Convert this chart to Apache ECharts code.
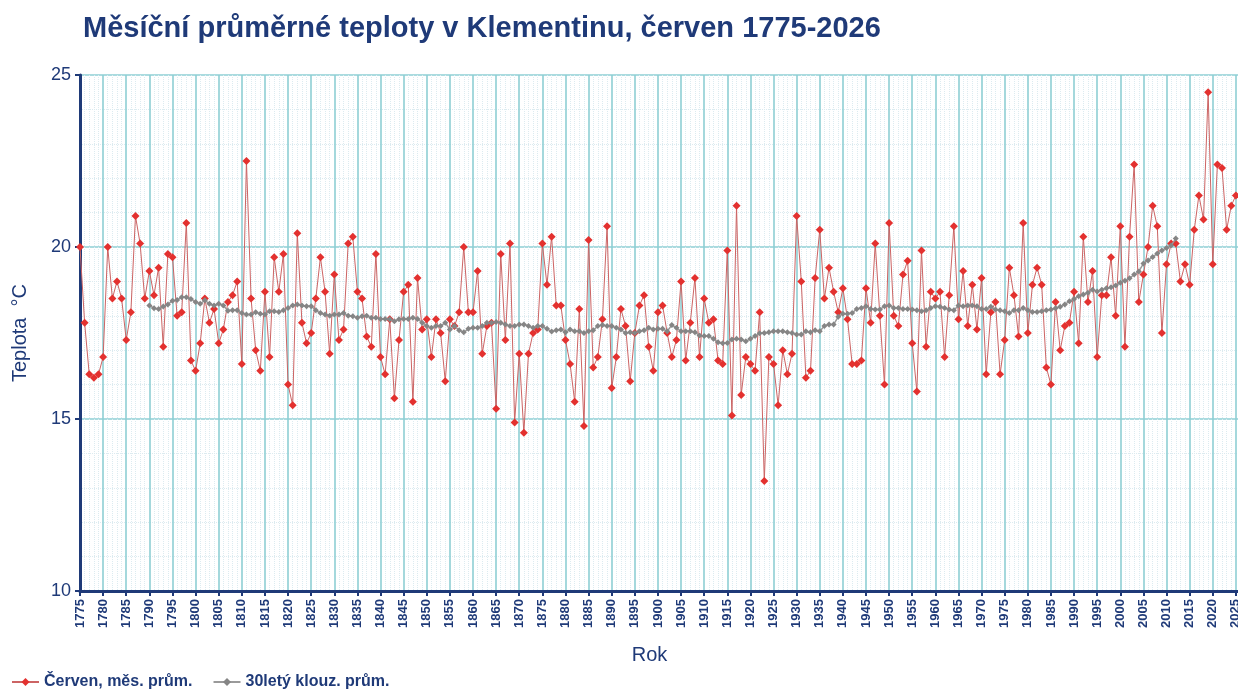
<!DOCTYPE html>
<html>
<head>
<meta charset="utf-8">
<title>Klementinum červen</title>
<script src="https://cdn.jsdelivr.net/npm/echarts@6/dist/echarts.min.js"></script>
<style>
  html, body { margin: 0; padding: 0; background: #fff; }
  #chart { width: 1238px; height: 691px; }
</style>
</head>
<body>
<div id="chart"></div>
<script>
// June mean temperature, Klementinum (°C), one value per year from firstYear
var firstYear = 1775;
var juneTemp = [
  20.0, 17.8, 16.3, 16.2, 16.3, 16.8, 20.0, 18.5, 19.0, 18.5,   // 1775-1784
  17.3, 18.1, 20.9, 20.1, 18.5, 19.3, 18.6, 19.4, 17.1, 19.8,   // 1785-1794
  19.7, 18.0, 18.1, 20.7, 16.7, 16.4, 17.2, 18.5, 17.8, 18.2,   // 1795-1804
  17.2, 17.6, 18.4, 18.6, 19.0, 16.6, 22.5, 18.5, 17.0, 16.4,   // 1805-1814
  18.7, 16.8, 19.7, 18.7, 19.8, 16.0, 15.4, 20.4, 17.8, 17.2,   // 1815-1824
  17.5, 18.5, 19.7, 18.7, 16.9, 19.2, 17.3, 17.6, 20.1, 20.3,   // 1825-1834
  18.7, 18.5, 17.4, 17.1, 19.8, 16.8, 16.3, 17.9, 15.6, 17.3,   // 1835-1844
  18.7, 18.9, 15.5, 19.1, 17.6, 17.9, 16.8, 17.9, 17.5, 16.1,   // 1845-1854
  17.9, 17.7, 18.1, 20.0, 18.1, 18.1, 19.3, 16.9, 17.7, 17.8,   // 1855-1864
  15.3, 19.8, 17.3, 20.1, 14.9, 16.9, 14.6, 16.9, 17.5, 17.6,   // 1865-1874
  20.1, 18.9, 20.3, 18.3, 18.3, 17.3, 16.6, 15.5, 18.2, 14.8,   // 1875-1884
  20.2, 16.5, 16.8, 17.9, 20.6, 15.9, 16.8, 18.2, 17.7, 16.1,   // 1885-1894
  17.5, 18.3, 18.6, 17.1, 16.4, 18.1, 18.3, 17.5, 16.8, 17.3,   // 1895-1904
  19.0, 16.7, 17.8, 19.1, 16.8, 18.5, 17.8, 17.9, 16.7, 16.6,   // 1905-1914
  19.9, 15.1, 21.2, 15.7, 16.8, 16.6, 16.4, 18.1, 13.2, 16.8,   // 1915-1924
  16.6, 15.4, 17.0, 16.3, 16.9, 20.9, 19.0, 16.2, 16.4, 19.1,   // 1925-1934
  20.5, 18.5, 19.4, 18.7, 18.1, 18.8, 17.9, 16.6, 16.6, 16.7,   // 1935-1944
  18.8, 17.8, 20.1, 18.0, 16.0, 20.7, 18.0, 17.7, 19.2, 19.6,   // 1945-1954
  17.2, 15.8, 19.9, 17.1, 18.7, 18.5, 18.7, 16.8, 18.6, 20.6,   // 1955-1964
  17.9, 19.3, 17.7, 18.9, 17.6, 19.1, 16.3, 18.1, 18.4, 16.3,   // 1965-1974
  17.3, 19.4, 18.6, 17.4, 20.7, 17.5, 18.9, 19.4, 18.9, 16.5,   // 1975-1984
  16.0, 18.4, 17.0, 17.7, 17.8, 18.7, 17.2, 20.3, 18.4, 19.3,   // 1985-1994
  16.8, 18.6, 18.6, 19.7, 18.0, 20.6, 17.1, 20.3, 22.4, 18.4,   // 1995-2004
  19.2, 20.0, 21.2, 20.6, 17.5, 19.5, 20.1, 20.1, 19.0, 19.5,   // 2005-2014
  18.9, 20.5, 21.5, 20.8, 24.5, 19.5, 22.4, 22.3, 20.5, 21.2,   // 2015-2024
  21.5                                                          // 2025
];

// 30-year moving average, as plotted, starting at maFirstYear
var maFirstYear = 1790;
var movingAvg = [
  18.30, 18.22, 18.20, 18.27, 18.33, 18.44, 18.46, 18.54, 18.54, 18.49,   // 1790
  18.40, 18.35, 18.45, 18.35, 18.30, 18.35, 18.30, 18.15, 18.16, 18.16,   // 1800
  18.08, 18.04, 18.04, 18.10, 18.06, 18.04, 18.13, 18.13, 18.11, 18.16,   // 1810
  18.23, 18.30, 18.33, 18.30, 18.28, 18.28, 18.16, 18.08, 18.04, 18.00,   // 1820
  18.04, 18.04, 18.08, 18.00, 17.99, 17.94, 17.99, 18.00, 17.94, 17.94,   // 1830
  17.91, 17.91, 17.90, 17.84, 17.90, 17.91, 17.91, 17.94, 17.91, 17.80,   // 1840
  17.70, 17.65, 17.70, 17.70, 17.80, 17.60, 17.70, 17.58, 17.52, 17.62,   // 1850
  17.65, 17.65, 17.70, 17.80, 17.80, 17.82, 17.80, 17.75, 17.70, 17.70,   // 1860
  17.75, 17.75, 17.70, 17.65, 17.70, 17.70, 17.62, 17.54, 17.58, 17.60,   // 1870
  17.52, 17.60, 17.55, 17.55, 17.50, 17.55, 17.58, 17.70, 17.73, 17.70,   // 1880
  17.70, 17.65, 17.60, 17.50, 17.52, 17.50, 17.55, 17.58, 17.65, 17.60,   // 1890
  17.62, 17.62, 17.55, 17.73, 17.65, 17.55, 17.55, 17.55, 17.52, 17.43,   // 1900
  17.41, 17.41, 17.33, 17.23, 17.20, 17.21, 17.31, 17.33, 17.31, 17.26,   // 1910
  17.33, 17.41, 17.49, 17.50, 17.52, 17.55, 17.55, 17.55, 17.52, 17.50,   // 1920
  17.46, 17.46, 17.55, 17.52, 17.58, 17.55, 17.70, 17.75, 17.75, 17.97,   // 1930
  18.06, 18.06, 18.08, 18.20, 18.23, 18.28, 18.20, 18.18, 18.18, 18.28,   // 1940
  18.30, 18.23, 18.23, 18.20, 18.20, 18.18, 18.16, 18.13, 18.16, 18.23,   // 1950
  18.28, 18.26, 18.23, 18.18, 18.16, 18.30, 18.28, 18.30, 18.30, 18.28,   // 1960
  18.20, 18.20, 18.26, 18.18, 18.16, 18.13, 18.08, 18.16, 18.16, 18.23,   // 1970
  18.16, 18.11, 18.11, 18.13, 18.16, 18.18, 18.22, 18.26, 18.33, 18.42,   // 1980
  18.49, 18.57, 18.62, 18.67, 18.76, 18.71, 18.76, 18.80, 18.83, 18.88,   // 1990
  18.96, 19.02, 19.09, 19.20, 19.29, 19.52, 19.61, 19.71, 19.81, 19.90,   // 2000
  19.97, 20.04, 20.25                                                     // 2010
];

var yTicks = [10, 15, 20, 25];

function pairs(startYear, values) {
  var out = [];
  for (var i = 0; i < values.length; i++) {
    out.push([startYear + i, values[i]]);
  }
  return out;
}

var navy = '#1f3a78';
var gridMajor = '#8ecfd4';
var gridMinor = '#dcebf0';
var font = 'Liberation Sans, Arial, sans-serif';

var myChart = echarts.init(document.getElementById('chart'), null, {renderer: 'canvas'});

var option = {
  backgroundColor: '#ffffff',
  animation: false,
  title: {
    text: 'Měsíční průměrné teploty v Klementinu, červen 1775-2026',
    left: 78,
    top: 9,
    textStyle: {
      fontFamily: font,
      fontSize: 29,
      fontWeight: 'bold',
      color: navy
    }
  },
  legend: {
    left: 6,
    bottom: -4,
    itemWidth: 27,
    itemHeight: 10,
    itemGap: 20,
    textStyle: {
      fontFamily: font,
      fontSize: 16,
      fontWeight: 'bold',
      color: navy
    },
    data: ['Červen, měs. prům.', '30letý klouz. prům.']
  },
  grid: {
    left: 80,
    top: 75,
    height: 516,
    width: 1179,
    containLabel: false,
    outerBoundsMode: 'none'
  },
  xAxis: {
    type: 'value',
    min: 1775,
    max: 2030,
    interval: 5,
    name: 'Rok',
    nameLocation: 'middle',
    nameGap: 54,
    nameTextStyle: {
      fontFamily: font,
      fontSize: 20,
      color: navy,
      padding: [0, 40, 0, 0]
    },
    axisLine: {show: true, onZero: false, lineStyle: {color: navy, width: 3}},
    axisTick: {show: true, length: 5, lineStyle: {color: navy, width: 2}},
    axisLabel: {
      rotate: 90,
      margin: 8,
      fontFamily: font,
      fontSize: 13,
      fontWeight: 'bold',
      color: navy,
      formatter: function (v) { return String(v); }
    },
    splitLine: {show: true, lineStyle: {color: gridMajor, width: 1.6, type: 'solid'}},
    minorTick: {show: false, splitNumber: 5},
    minorSplitLine: {show: true, lineStyle: {color: gridMinor, width: 1, type: 'dotted'}}
  },
  yAxis: {
    type: 'value',
    min: yTicks[0],
    max: yTicks[yTicks.length - 1],
    interval: 5,
    name: 'Teplota  °C',
    nameLocation: 'middle',
    nameGap: 50,
    nameTextStyle: {
      fontFamily: font,
      fontSize: 20,
      color: navy
    },
    axisLine: {show: true, lineStyle: {color: navy, width: 3}},
    axisTick: {show: true, length: 5, lineStyle: {color: navy, width: 2}},
    axisLabel: {
      margin: 9,
      fontFamily: font,
      fontSize: 18,
      color: navy
    },
    splitLine: {show: true, lineStyle: {color: gridMajor, width: 1.6, type: 'solid'}},
    minorTick: {show: false, splitNumber: 5},
    minorSplitLine: {show: true, lineStyle: {color: gridMinor, width: 1, type: 'dotted'}}
  },
  series: [
    {
      name: 'Červen, měs. prům.',
      type: 'line',
      data: pairs(firstYear, juneTemp),
      symbol: 'diamond',
      symbolSize: 8,
      showAllSymbol: true,
      itemStyle: {color: '#e3312f'},
      lineStyle: {color: '#cc6464', width: 1},
      z: 3
    },
    {
      name: '30letý klouz. prům.',
      type: 'line',
      data: pairs(maFirstYear, movingAvg),
      symbol: 'diamond',
      symbolSize: 6,
      showAllSymbol: true,
      itemStyle: {color: '#858585'},
      lineStyle: {color: '#9a9a9a', width: 1.5},
      z: 4
    }
  ]
};

myChart.setOption(option);
</script>
</body>
</html>
